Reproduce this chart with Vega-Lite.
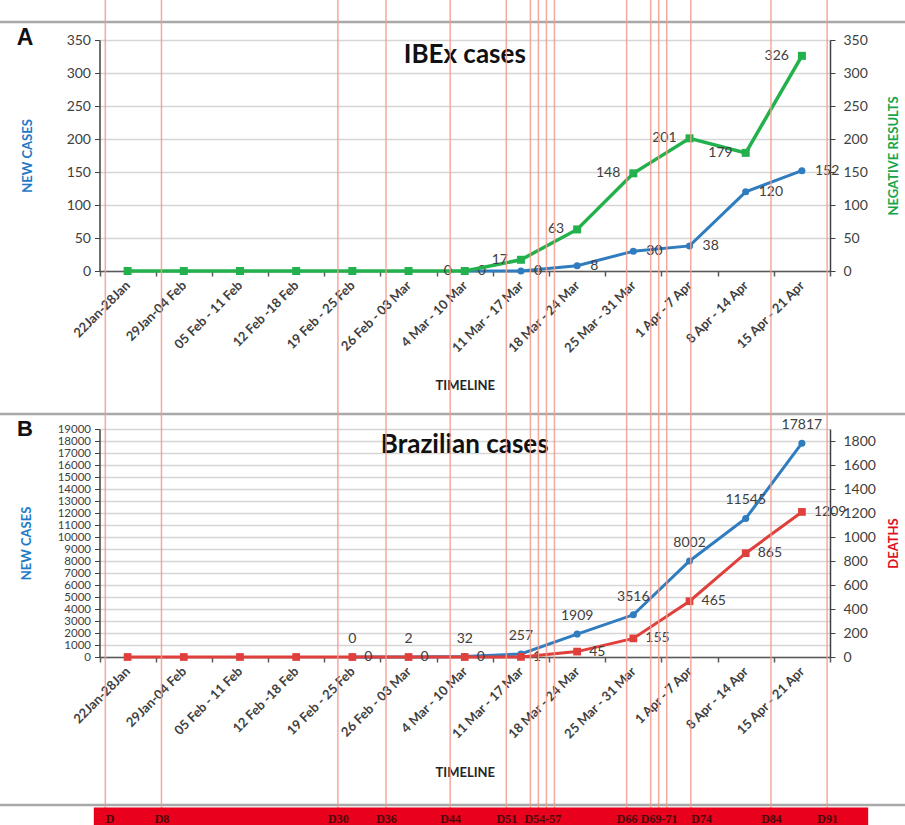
{
  "$schema": "https://vega.github.io/schema/vega-lite/v6.json",
  "width": 905,
  "height": 825,
  "autosize": {"type": "none"},
  "padding": 0,
  "background": "white",
  "config": {
    "view": {"stroke": null},
    "font": "Lato",
    "axis": {"labelFont": "Lato", "titleFont": "Lato"},
    "text": {"font": "Lato"}
  },
  "datasets": {
    "ibex": [
      {"week": "22Jan-28Jan", "series": "Negative results", "value": 0},
      {"week": "29Jan-04 Feb", "series": "Negative results", "value": 0},
      {"week": "05 Feb - 11 Feb", "series": "Negative results", "value": 0},
      {"week": "12 Feb -18 Feb", "series": "Negative results", "value": 0},
      {"week": "19 Feb - 25 Feb", "series": "Negative results", "value": 0},
      {"week": "26 Feb - 03 Mar", "series": "Negative results", "value": 0},
      {"week": "4 Mar - 10 Mar", "series": "Negative results", "value": 0},
      {"week": "11 Mar - 17 Mar", "series": "Negative results", "value": 17},
      {"week": "18 Mar - 24 Mar", "series": "Negative results", "value": 63},
      {"week": "25 Mar - 31 Mar", "series": "Negative results", "value": 148},
      {"week": "1 Apr - 7 Apr", "series": "Negative results", "value": 201},
      {"week": "8 Apr - 14 Apr", "series": "Negative results", "value": 179},
      {"week": "15 Apr - 21 Apr", "series": "Negative results", "value": 326},
      {"week": "4 Mar - 10 Mar", "series": "New cases", "value": 0},
      {"week": "11 Mar - 17 Mar", "series": "New cases", "value": 0},
      {"week": "18 Mar - 24 Mar", "series": "New cases", "value": 8},
      {"week": "25 Mar - 31 Mar", "series": "New cases", "value": 30},
      {"week": "1 Apr - 7 Apr", "series": "New cases", "value": 38},
      {"week": "8 Apr - 14 Apr", "series": "New cases", "value": 120},
      {"week": "15 Apr - 21 Apr", "series": "New cases", "value": 152}
    ],
    "brazil": [
      {"week": "19 Feb - 25 Feb", "series": "New cases", "value": 0},
      {"week": "26 Feb - 03 Mar", "series": "New cases", "value": 2},
      {"week": "4 Mar - 10 Mar", "series": "New cases", "value": 32},
      {"week": "11 Mar - 17 Mar", "series": "New cases", "value": 257},
      {"week": "18 Mar - 24 Mar", "series": "New cases", "value": 1909},
      {"week": "25 Mar - 31 Mar", "series": "New cases", "value": 3516},
      {"week": "1 Apr - 7 Apr", "series": "New cases", "value": 8002},
      {"week": "8 Apr - 14 Apr", "series": "New cases", "value": 11545},
      {"week": "15 Apr - 21 Apr", "series": "New cases", "value": 17817},
      {"week": "22Jan-28Jan", "series": "Deaths", "value": 0},
      {"week": "29Jan-04 Feb", "series": "Deaths", "value": 0},
      {"week": "05 Feb - 11 Feb", "series": "Deaths", "value": 0},
      {"week": "12 Feb -18 Feb", "series": "Deaths", "value": 0},
      {"week": "19 Feb - 25 Feb", "series": "Deaths", "value": 0},
      {"week": "26 Feb - 03 Mar", "series": "Deaths", "value": 0},
      {"week": "4 Mar - 10 Mar", "series": "Deaths", "value": 0},
      {"week": "11 Mar - 17 Mar", "series": "Deaths", "value": 1},
      {"week": "18 Mar - 24 Mar", "series": "Deaths", "value": 45},
      {"week": "25 Mar - 31 Mar", "series": "Deaths", "value": 155},
      {"week": "1 Apr - 7 Apr", "series": "Deaths", "value": 465},
      {"week": "8 Apr - 14 Apr", "series": "Deaths", "value": 865},
      {"week": "15 Apr - 21 Apr", "series": "Deaths", "value": 1209}
    ],
    "days": [
      {"day": 1}, {"day": 8}, {"day": 30}, {"day": 36}, {"day": 44}, {"day": 51},
      {"day": 54}, {"day": 55}, {"day": 56}, {"day": 57}, {"day": 66},
      {"day": 69}, {"day": 70}, {"day": 71}, {"day": 74}, {"day": 84}, {"day": 91}
    ]
  },
  "layer": [
    {
      "layer": [
        {
          "data": {"name": "ibex"},
          "transform": [{"filter": "datum.series === 'New cases'"}],
          "encoding": {
            "x": {
              "field": "week", "type": "nominal", "sort": null,
              "scale": {"domain": ["22Jan-28Jan","29Jan-04 Feb","05 Feb - 11 Feb","12 Feb -18 Feb","19 Feb - 25 Feb","26 Feb - 03 Mar","4 Mar - 10 Mar","11 Mar - 17 Mar","18 Mar - 24 Mar","25 Mar - 31 Mar","1 Apr - 7 Apr","8 Apr - 14 Apr","15 Apr - 21 Apr"], "range": [99.5, 830], "paddingInner": 0, "paddingOuter": 0},
              "axis": {"orient": "bottom", "offset": -554, "tickBand": "extent", "grid": false, "domainColor": "#595959", "domainWidth": 1.5, "tickColor": "#595959", "tickSize": 5, "tickWidth": 1.5, "labelAngle": -45, "labelAlign": "right", "labelBaseline": "middle", "labelPadding": 7, "labelFontSize": 13, "labelFontWeight": "bold", "labelColor": "#404040", "labelOverlap": false, "title": "TIMELINE", "titleFontSize": 13, "titleFontWeight": "bold", "titleColor": "#262626", "titleY": 114, "titleBaseline": "middle"}
            },
            "y": {
              "field": "value", "type": "quantitative",
              "scale": {"domain": [0, 350], "range": [271, 40], "nice": false, "zero": false},
              "axis": {"orient": "left", "offset": -99.5, "values": [0, 50, 100, 150, 200, 250, 300, 350], "format": "d", "grid": true, "gridColor": "#d6d6d6", "gridWidth": 1.5, "domainColor": "#404040", "domainWidth": 1.5, "tickColor": "#404040", "tickSize": 5, "labelFontSize": 14, "labelColor": "#404040", "labelPadding": 4, "labelOverlap": false, "labelFlush": false, "title": "NEW CASES", "titleColor": "#1e7ac4", "titleFontSize": 13, "titleFontWeight": "bold", "titleX": -72, "titleBaseline": "middle", "titleAngle": 270}
            }
          },
          "layer": [
            {"mark": {"type": "line", "color": "#2f7cbf", "strokeWidth": 3}},
            {"mark": {"type": "point", "shape": "circle", "filled": true, "size": 50, "color": "#2f7cbf", "opacity": 1}},
            {"mark": {"type": "text", "align": "left", "baseline": "middle", "dx": 13, "fontSize": 14, "color": "#404040"}, "encoding": {"text": {"field": "value", "type": "quantitative", "format": "d"}}}
          ]
        },
        {
          "data": {"name": "ibex"},
          "transform": [{"filter": "datum.series === 'Negative results'"}],
          "encoding": {
            "x": {"field": "week", "type": "nominal", "sort": null},
            "y": {
              "field": "value", "type": "quantitative",
              "scale": {"domain": [0, 350], "range": [271, 40], "nice": false, "zero": false},
              "axis": {"orient": "right", "offset": -75, "values": [0, 50, 100, 150, 200, 250, 300, 350], "format": "d", "grid": false, "domainColor": "#404040", "domainWidth": 1.5, "tickColor": "#404040", "tickSize": 5, "labelFontSize": 14, "labelColor": "#404040", "labelPadding": 8, "labelOverlap": false, "labelFlush": false, "title": "NEGATIVE RESULTS", "titleColor": "#17a549", "titleFontSize": 13, "titleFontWeight": "bold", "titleX": 63, "titleBaseline": "middle", "titleAngle": 270}
            }
          },
          "layer": [
            {"mark": {"type": "line", "color": "#22b14c", "strokeWidth": 3.5}},
            {"mark": {"type": "point", "shape": "square", "filled": true, "size": 64, "color": "#22b14c", "opacity": 1}},
            {"transform": [{"filter": {"field": "week", "oneOf": ["4 Mar - 10 Mar", "11 Mar - 17 Mar", "18 Mar - 24 Mar", "25 Mar - 31 Mar", "1 Apr - 7 Apr", "8 Apr - 14 Apr", "15 Apr - 21 Apr"]}}],
             "mark": {"type": "text", "align": "right", "baseline": "middle", "dx": -13, "fontSize": 14, "color": "#404040"}, "encoding": {"text": {"field": "value", "type": "quantitative", "format": "d"}}}
          ]
        },
        {
          "data": {"values": [{"title": "IBEx cases", "panel": "A"}]},
          "encoding": {
            "x": {"datum": "4 Mar - 10 Mar", "type": "nominal"},
            "y": {"datum": 315, "type": "quantitative", "scale": {"domain": [0, 350], "range": [271, 40], "nice": false, "zero": false}, "axis": null}
          },
          "layer": [
            {"mark": {"type": "text", "fontSize": 26, "fontWeight": "bold", "align": "center", "baseline": "alphabetic", "color": "#111111"},
             "encoding": {"text": {"field": "title"}}},
            {"mark": {"type": "text", "font": "Liberation Sans", "fontSize": 23, "fontWeight": "bold", "align": "center", "baseline": "alphabetic", "dx": -439.7, "dy": -18, "color": "#111111"},
             "encoding": {"text": {"field": "panel"}}}
          ]
        }
      ],
      "resolve": {"scale": {"y": "independent"}, "axis": {"y": "independent"}}
    },
    {
      "layer": [
        {
          "data": {"name": "brazil"},
          "transform": [{"filter": "datum.series === 'New cases'"}],
          "encoding": {
            "x": {
              "field": "week", "type": "nominal", "sort": null,
              "scale": {"domain": ["22Jan-28Jan","29Jan-04 Feb","05 Feb - 11 Feb","12 Feb -18 Feb","19 Feb - 25 Feb","26 Feb - 03 Mar","4 Mar - 10 Mar","11 Mar - 17 Mar","18 Mar - 24 Mar","25 Mar - 31 Mar","1 Apr - 7 Apr","8 Apr - 14 Apr","15 Apr - 21 Apr"], "range": [99.5, 830], "paddingInner": 0, "paddingOuter": 0},
              "axis": {"orient": "bottom", "offset": -168, "tickBand": "extent", "grid": false, "domainColor": "#595959", "domainWidth": 1.5, "tickColor": "#595959", "tickSize": 5, "tickWidth": 1.5, "labelAngle": -45, "labelAlign": "right", "labelBaseline": "middle", "labelPadding": 7, "labelFontSize": 13, "labelFontWeight": "bold", "labelColor": "#404040", "labelOverlap": false, "title": "TIMELINE", "titleFontSize": 13, "titleFontWeight": "bold", "titleColor": "#262626", "titleY": 115, "titleBaseline": "middle"}
            },
            "y": {
              "field": "value", "type": "quantitative",
              "scale": {"domain": [0, 19000], "range": [657, 429], "nice": false, "zero": false},
              "axis": {"orient": "left", "offset": -99.5, "values": [0, 1000, 2000, 3000, 4000, 5000, 6000, 7000, 8000, 9000, 10000, 11000, 12000, 13000, 14000, 15000, 16000, 17000, 18000, 19000], "format": "d", "grid": true, "gridColor": "#d6d6d6", "gridWidth": 1.5, "domainColor": "#404040", "domainWidth": 1.5, "tickColor": "#404040", "tickSize": 5, "labelFontSize": 11.5, "labelColor": "#404040", "labelPadding": 4, "labelOverlap": false, "labelFlush": false, "title": "NEW CASES", "titleColor": "#1e7ac4", "titleFontSize": 13, "titleFontWeight": "bold", "titleX": -73, "titleBaseline": "middle", "titleAngle": 270}
            }
          },
          "layer": [
            {"mark": {"type": "line", "color": "#2f7cbf", "strokeWidth": 3}},
            {"mark": {"type": "point", "shape": "circle", "filled": true, "size": 50, "color": "#2f7cbf", "opacity": 1}},
            {"mark": {"type": "text", "align": "center", "baseline": "middle", "dy": -18, "fontSize": 14, "color": "#404040"}, "encoding": {"text": {"field": "value", "type": "quantitative", "format": "d"}}}
          ]
        },
        {
          "data": {"name": "brazil"},
          "transform": [{"filter": "datum.series === 'Deaths'"}],
          "encoding": {
            "x": {"field": "week", "type": "nominal", "sort": null},
            "y": {
              "field": "value", "type": "quantitative",
              "scale": {"domain": [0, 1900], "range": [657, 429], "nice": false, "zero": false},
              "axis": {"orient": "right", "offset": -75, "values": [0, 200, 400, 600, 800, 1000, 1200, 1400, 1600, 1800], "format": "d", "grid": false, "domainColor": "#404040", "domainWidth": 1.5, "tickColor": "#404040", "tickSize": 5, "labelFontSize": 14, "labelColor": "#404040", "labelPadding": 8, "labelOverlap": false, "labelFlush": false, "title": "DEATHS", "titleColor": "#e0101e", "titleFontSize": 13, "titleFontWeight": "bold", "titleX": 63, "titleBaseline": "middle", "titleAngle": 270}
            }
          },
          "layer": [
            {"mark": {"type": "line", "color": "#e0403c", "strokeWidth": 3}},
            {"mark": {"type": "point", "shape": "square", "filled": true, "size": 60, "color": "#e0403c", "opacity": 1}},
            {"transform": [{"filter": {"field": "week", "oneOf": ["19 Feb - 25 Feb", "26 Feb - 03 Mar", "4 Mar - 10 Mar", "11 Mar - 17 Mar", "18 Mar - 24 Mar", "25 Mar - 31 Mar", "1 Apr - 7 Apr", "8 Apr - 14 Apr", "15 Apr - 21 Apr"]}}],
             "mark": {"type": "text", "align": "left", "baseline": "middle", "dx": 12, "fontSize": 14, "color": "#404040"}, "encoding": {"text": {"field": "value", "type": "quantitative", "format": "d"}}}
          ]
        },
        {
          "data": {"values": [{"title": "Brazilian cases", "panel": "B"}]},
          "encoding": {
            "x": {"datum": "4 Mar - 10 Mar", "type": "nominal"},
            "y": {"datum": 17000, "type": "quantitative", "scale": {"domain": [0, 19000], "range": [657, 429], "nice": false, "zero": false}, "axis": null}
          },
          "layer": [
            {"mark": {"type": "text", "fontSize": 26, "fontWeight": "bold", "align": "center", "baseline": "alphabetic", "color": "#111111"},
             "encoding": {"text": {"field": "title"}}},
            {"mark": {"type": "text", "font": "Liberation Sans", "fontSize": 22, "fontWeight": "bold", "align": "center", "baseline": "alphabetic", "dx": -439.7, "dy": -17, "color": "#111111"},
             "encoding": {"text": {"field": "panel"}}}
          ]
        }
      ],
      "resolve": {"scale": {"y": "independent"}, "axis": {"y": "independent"}}
    },
    {
      "data": {"values": [{"sep": "top", "v": 0}]},
      "layer": [
        {"mark": {"type": "rule", "color": "#a8a8a8", "strokeWidth": 2.5},
         "encoding": {"y": {"datum": 22, "type": "quantitative", "scale": {"domain": [0, 825], "range": [0, 825], "nice": false, "zero": false}, "axis": null}}},
        {"mark": {"type": "rule", "color": "#a8a8a8", "strokeWidth": 2.5},
         "encoding": {"y": {"datum": 414, "type": "quantitative"}}},
        {"mark": {"type": "rule", "color": "#a8a8a8", "strokeWidth": 2.5},
         "encoding": {"y": {"datum": 805, "type": "quantitative"}}}
      ]
    },
    {
      "data": {"name": "days"},
      "encoding": {
        "x": {
          "field": "day", "type": "quantitative",
          "scale": {"domain": [-0.5, 96.06], "range": [93.3, 867.7], "nice": false, "zero": false}
        }
      },
      "layer": [
        {
          "mark": {"type": "rule", "color": "#f29a8c", "strokeWidth": 1.5, "opacity": 0.85},
          "encoding": {
            "x": {
              "field": "day", "type": "quantitative",
              "axis": {"orient": "bottom", "offset": -9, "values": [1, 91], "labels": false, "ticks": false, "domainColor": "#e8001c", "domainWidth": 18, "domainCap": "butt", "grid": false, "title": null, "zindex": 1}
            }
          }
        },
        {
          "mark": {"type": "rule", "strokeOpacity": 0},
          "encoding": {
            "x": {
              "field": "day", "type": "quantitative",
              "axis": {"orient": "bottom", "offset": -9, "values": [1, 8, 30, 36, 44, 51, 55.5, 66, 70, 74, 84, 91], "labelExpr": "datum.value == 1 ? 'D' : datum.value == 55.5 ? 'D54-57' : datum.value == 70 ? 'D69-71' : 'D' + datum.value", "domain": false, "ticks": false, "labelPadding": 2, "labelBaseline": "middle", "labelAlign": {"condition": {"test": "datum.value == 1 || datum.value == 74", "value": "left"}, "value": "center"}, "labelFont": "Liberation Serif", "labelFontSize": 12, "labelFontWeight": "bold", "labelColor": "#4a0a0a", "labelFlush": false, "labelOverlap": false, "grid": false, "title": null, "zindex": 2}
            }
          }
        }
      ],
      "resolve": {"axis": {"x": "independent"}}
    }
  ],
  "resolve": {"scale": {"x": "independent", "y": "independent"}, "axis": {"x": "independent", "y": "independent"}}
}
